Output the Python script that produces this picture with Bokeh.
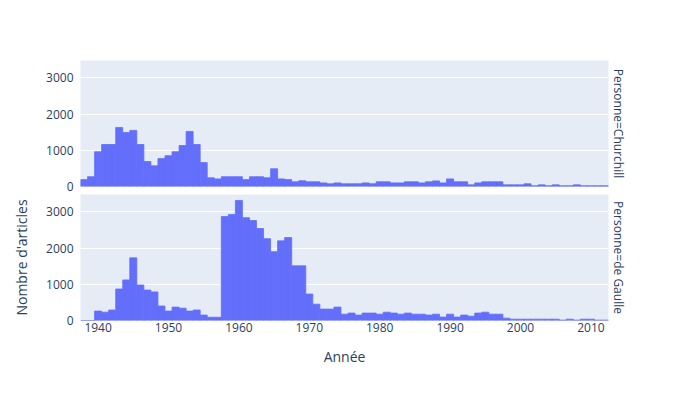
from bokeh.plotting import figure
from bokeh.layouts import column
from bokeh.models import Range1d, FixedTicker, Title
from bokeh.embed import file_html
from bokeh.resources import INLINE

years = list(range(1938, 2013))

churchill = [190, 270, 960, 1160, 1160, 1630, 1490, 1550, 1160, 690,
             570, 770, 850, 960, 1130, 1520, 1160, 660, 240, 210,
             270, 270, 270, 190, 270, 270, 240, 490, 210, 190,
             130, 160, 130, 130, 100, 75, 100, 75, 75, 75,
             100, 75, 130, 130, 100, 100, 130, 130, 100, 130,
             155, 100, 210, 130, 130, 45, 100, 130, 130, 130,
             45, 45, 45, 75, 20, 45, 20, 45, 20, 20,
             45, 20, 20, 20, 20]

de_gaulle = [0, 0, 260, 230, 290, 870, 1120, 1730, 980, 840,
             790, 400, 260, 370, 340, 260, 290, 150, 90, 90,
             2870, 2930, 3315, 2840, 2760, 2540, 2260, 1900, 2200, 2290,
             1510, 1510, 730, 450, 315, 315, 370, 175, 205, 150,
             205, 205, 175, 230, 205, 175, 205, 175, 175, 150,
             175, 95, 175, 95, 150, 120, 205, 230, 175, 175,
             65, 37, 37, 37, 37, 37, 37, 37, 10, 37,
             10, 37, 37, 10, 10]

facet_labels = ["Personne=Churchill", "Personne=de Gaulle"]
x_ticks = [1940, 1950, 1960, 1970, 1980, 1990, 2000, 2010]
y_ticks = [0, 1000, 2000, 3000]
x_title = "Année"
y_title = "Nombre d'articles"

FONT = "Open Sans"
TXT = "#2a3f5f"
BG = "#E5ECF6"
BAR = "#636EFA"


def panel(values, label, bottom):
    kw = dict(
        width=700,
        height=206 if bottom else 194,
        x_range=Range1d(1937.5, 2012.5),
        y_range=Range1d(0, 3480),
        output_backend="svg",
        toolbar_location=None,
        min_border_left=80,
        min_border_right=92,
        min_border_top=0 if bottom else 60,
        min_border_bottom=80 if bottom else 8,
        background_fill_color=BG,
        border_fill_color="white",
        outline_line_color=None,
    )
    if not bottom:
        kw["x_axis_location"] = None
    p = figure(**kw)
    p.vbar(x=years, top=values, width=1, bottom=0,
           fill_color=BAR, line_color=BAR, line_width=0.8)
    p.xgrid.visible = False
    p.ygrid.grid_line_color = "white"
    p.ygrid.grid_line_width = 1
    p.ygrid.ticker = FixedTicker(ticks=y_ticks)
    for ax in p.yaxis:
        ax.ticker = FixedTicker(ticks=y_ticks)
        ax.major_tick_in = 0
        ax.major_tick_out = 0
        ax.minor_tick_in = 0
        ax.minor_tick_out = 0
        ax.axis_line_color = None
        ax.major_label_text_font = FONT
        ax.major_label_text_font_size = "12px"
        ax.major_label_text_color = TXT
        ax.major_label_standoff = 7
        if bottom:
            ax.axis_label = y_title
            ax.axis_label_text_font = FONT
            ax.axis_label_text_font_size = "14px"
            ax.axis_label_text_font_style = "normal"
            ax.axis_label_text_color = TXT
            ax.axis_label_standoff = 12
    if bottom:
        for ax in p.xaxis:
            ax.ticker = FixedTicker(ticks=x_ticks)
            ax.major_tick_in = 0
            ax.major_tick_out = 0
            ax.minor_tick_in = 0
            ax.minor_tick_out = 0
            ax.axis_line_color = None
            ax.major_label_text_font = FONT
            ax.major_label_text_font_size = "12px"
            ax.major_label_text_color = TXT
            ax.major_label_standoff = 2
            ax.axis_label = x_title
            ax.axis_label_text_font = FONT
            ax.axis_label_text_font_size = "14px"
            ax.axis_label_text_font_style = "normal"
            ax.axis_label_text_color = TXT
            ax.axis_label_standoff = 12
    t = Title(text=label, align="center", text_font=FONT,
              text_font_size="12px", text_font_style="normal",
              text_color=TXT, standoff=2, offset=0)
    p.add_layout(t, "right")
    return p


top = panel(churchill, facet_labels[0], False)
bot = panel(de_gaulle, facet_labels[1], True)
layout = column(top, bot, spacing=0)

open("out.html", "w").write(file_html(layout, INLINE))
